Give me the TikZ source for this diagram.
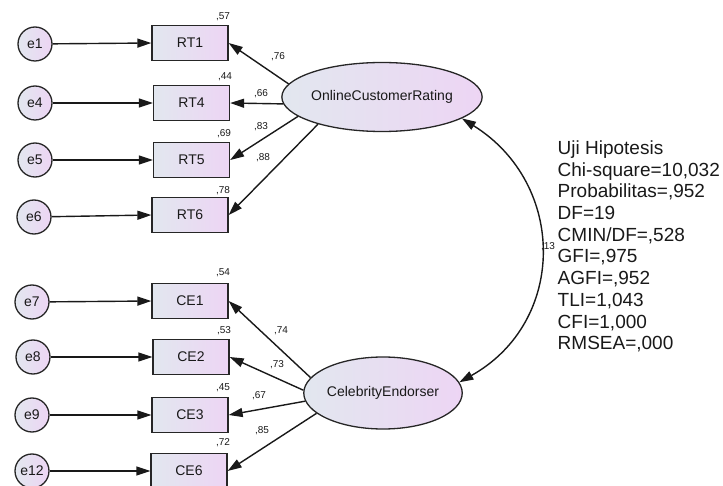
\documentclass[tikz,border=0pt]{standalone}
\usepackage{fontspec}
\setmainfont{Liberation Sans}
\usetikzlibrary{shapes.geometric,arrows.meta}
\definecolor{gradL}{RGB}{226,231,239}
\definecolor{gradR}{RGB}{237,213,244}
\definecolor{txt}{RGB}{25,25,25}
\tikzset{
  base/.style={draw=black!85, line width=1.3pt, left color=gradL, right color=gradR, text=txt, font=\fontsize{14}{16}\selectfont, inner sep=0pt},
  errc/.style={base, circle, minimum size=34pt},
  obsbox/.style={base, rectangle, minimum width=76pt, minimum height=35pt},
  latent/.style={base, ellipse},
  arr/.style={line width=1.4pt, draw=black!90, -{Triangle[length=14pt,width=9pt]}},
  darr/.style={line width=1.4pt, draw=black!90, {Triangle[length=14pt,width=9pt]}-{Triangle[length=14pt,width=9pt]}},
  val/.style={font=\fontsize{10}{12}\selectfont, text=txt, inner sep=0pt}
}
\begin{document}
\begin{tikzpicture}[x=1pt,y=-1pt]
\useasboundingbox (0,0) rectangle (723,486);
% error terms
\node[errc] (e1) at (35,44) {e1};
\node[errc] (e4) at (35,103) {e4};
\node[errc] (e5) at (35,160) {e5};
\node[errc] (e6) at (34,217) {e6};
\node[errc] (e7) at (32,302) {e7};
\node[errc] (e8) at (33,357) {e8};
\node[errc] (e9) at (32,415) {e9};
\node[errc] (e12) at (32,471) {e12};
% observed
\node[obsbox] (RT1) at (190,43) {RT1};
\node[obsbox] (RT4) at (191.5,103) {RT4};
\node[obsbox] (RT5) at (191.5,160) {RT5};
\node[obsbox] (RT6) at (190,215) {RT6};
\node[obsbox] (CE1) at (190,301) {CE1};
\node[obsbox] (CE2) at (191,357) {CE2};
\node[obsbox] (CE3) at (190,415) {CE3};
\node[obsbox] (CE6) at (189,471) {CE6};
% latent
\node[latent, minimum width=151pt, minimum height=69pt] (OCR) at (382,97) {OnlineCustomerRating};
\node[latent, minimum width=154pt, minimum height=72pt] (CEL) at (383,393) {CelebrityEndorser};
% error arrows
\foreach \e/\b in {e1/RT1,e4/RT4,e5/RT5,e6/RT6,e7/CE1,e8/CE2,e9/CE3,e12/CE6}
  \draw[arr] (\e) -- (\b.west);
% loadings
\draw[arr] (OCR.172) -- (RT1.east);
\draw[arr] (OCR.184) -- (RT4.east);
\draw[arr] (OCR.193) -- (RT5.east);
\draw[arr] (OCR.203) -- (RT6.east);
\draw[arr] (CEL.168) -- (CE1.east);
\draw[arr] (CEL.178) -- (CE2.east);
\draw[arr] (CEL.186) -- (CE3.east);
\draw[arr] (CEL.197) -- (CE6.east);
% covariance
\draw[darr] (OCR.-15) .. controls (567,184) and (567,322) .. (CEL.8);
% values
\node[val] (v57) at (223,17) {,57};
\node[val] (v44) at (225,77) {,44};
\node[val] (v69) at (224,134) {,69};
\node[val] (v78) at (223,191) {,78};
\node[val] (v76) at (278,57) {,76};
\node[val] (v66) at (261,94) {,66};
\node[val] (v83) at (261,127) {,83};
\node[val] (v88) at (263,158) {,88};
\node[val] (v54) at (223,273) {,54};
\node[val] (v53) at (224,331) {,53};
\node[val] (v45) at (223,388) {,45};
\node[val] (v72) at (223,443) {,72};
\node[val] (v74) at (281,331) {,74};
\node[val] (v73) at (277,365) {,73};
\node[val] (v67) at (259,396) {,67};
\node[val] (v85) at (262,431) {,85};
\node[val] (v13) at (548,247) {,13};
% fit statistics
\node[anchor=north west, inner sep=0pt, align=left, text=txt, font=\fontsize{19}{21.7}\selectfont] (stats) at (557.5,140.5)
  {Uji Hipotesis\\Chi-square=10,032\\Probabilitas=,952\\DF=19\\CMIN/DF=,528\\GFI=,975\\AGFI=,952\\TLI=1,043\\CFI=1,000\\RMSEA=,000};
\end{tikzpicture}
\end{document}
